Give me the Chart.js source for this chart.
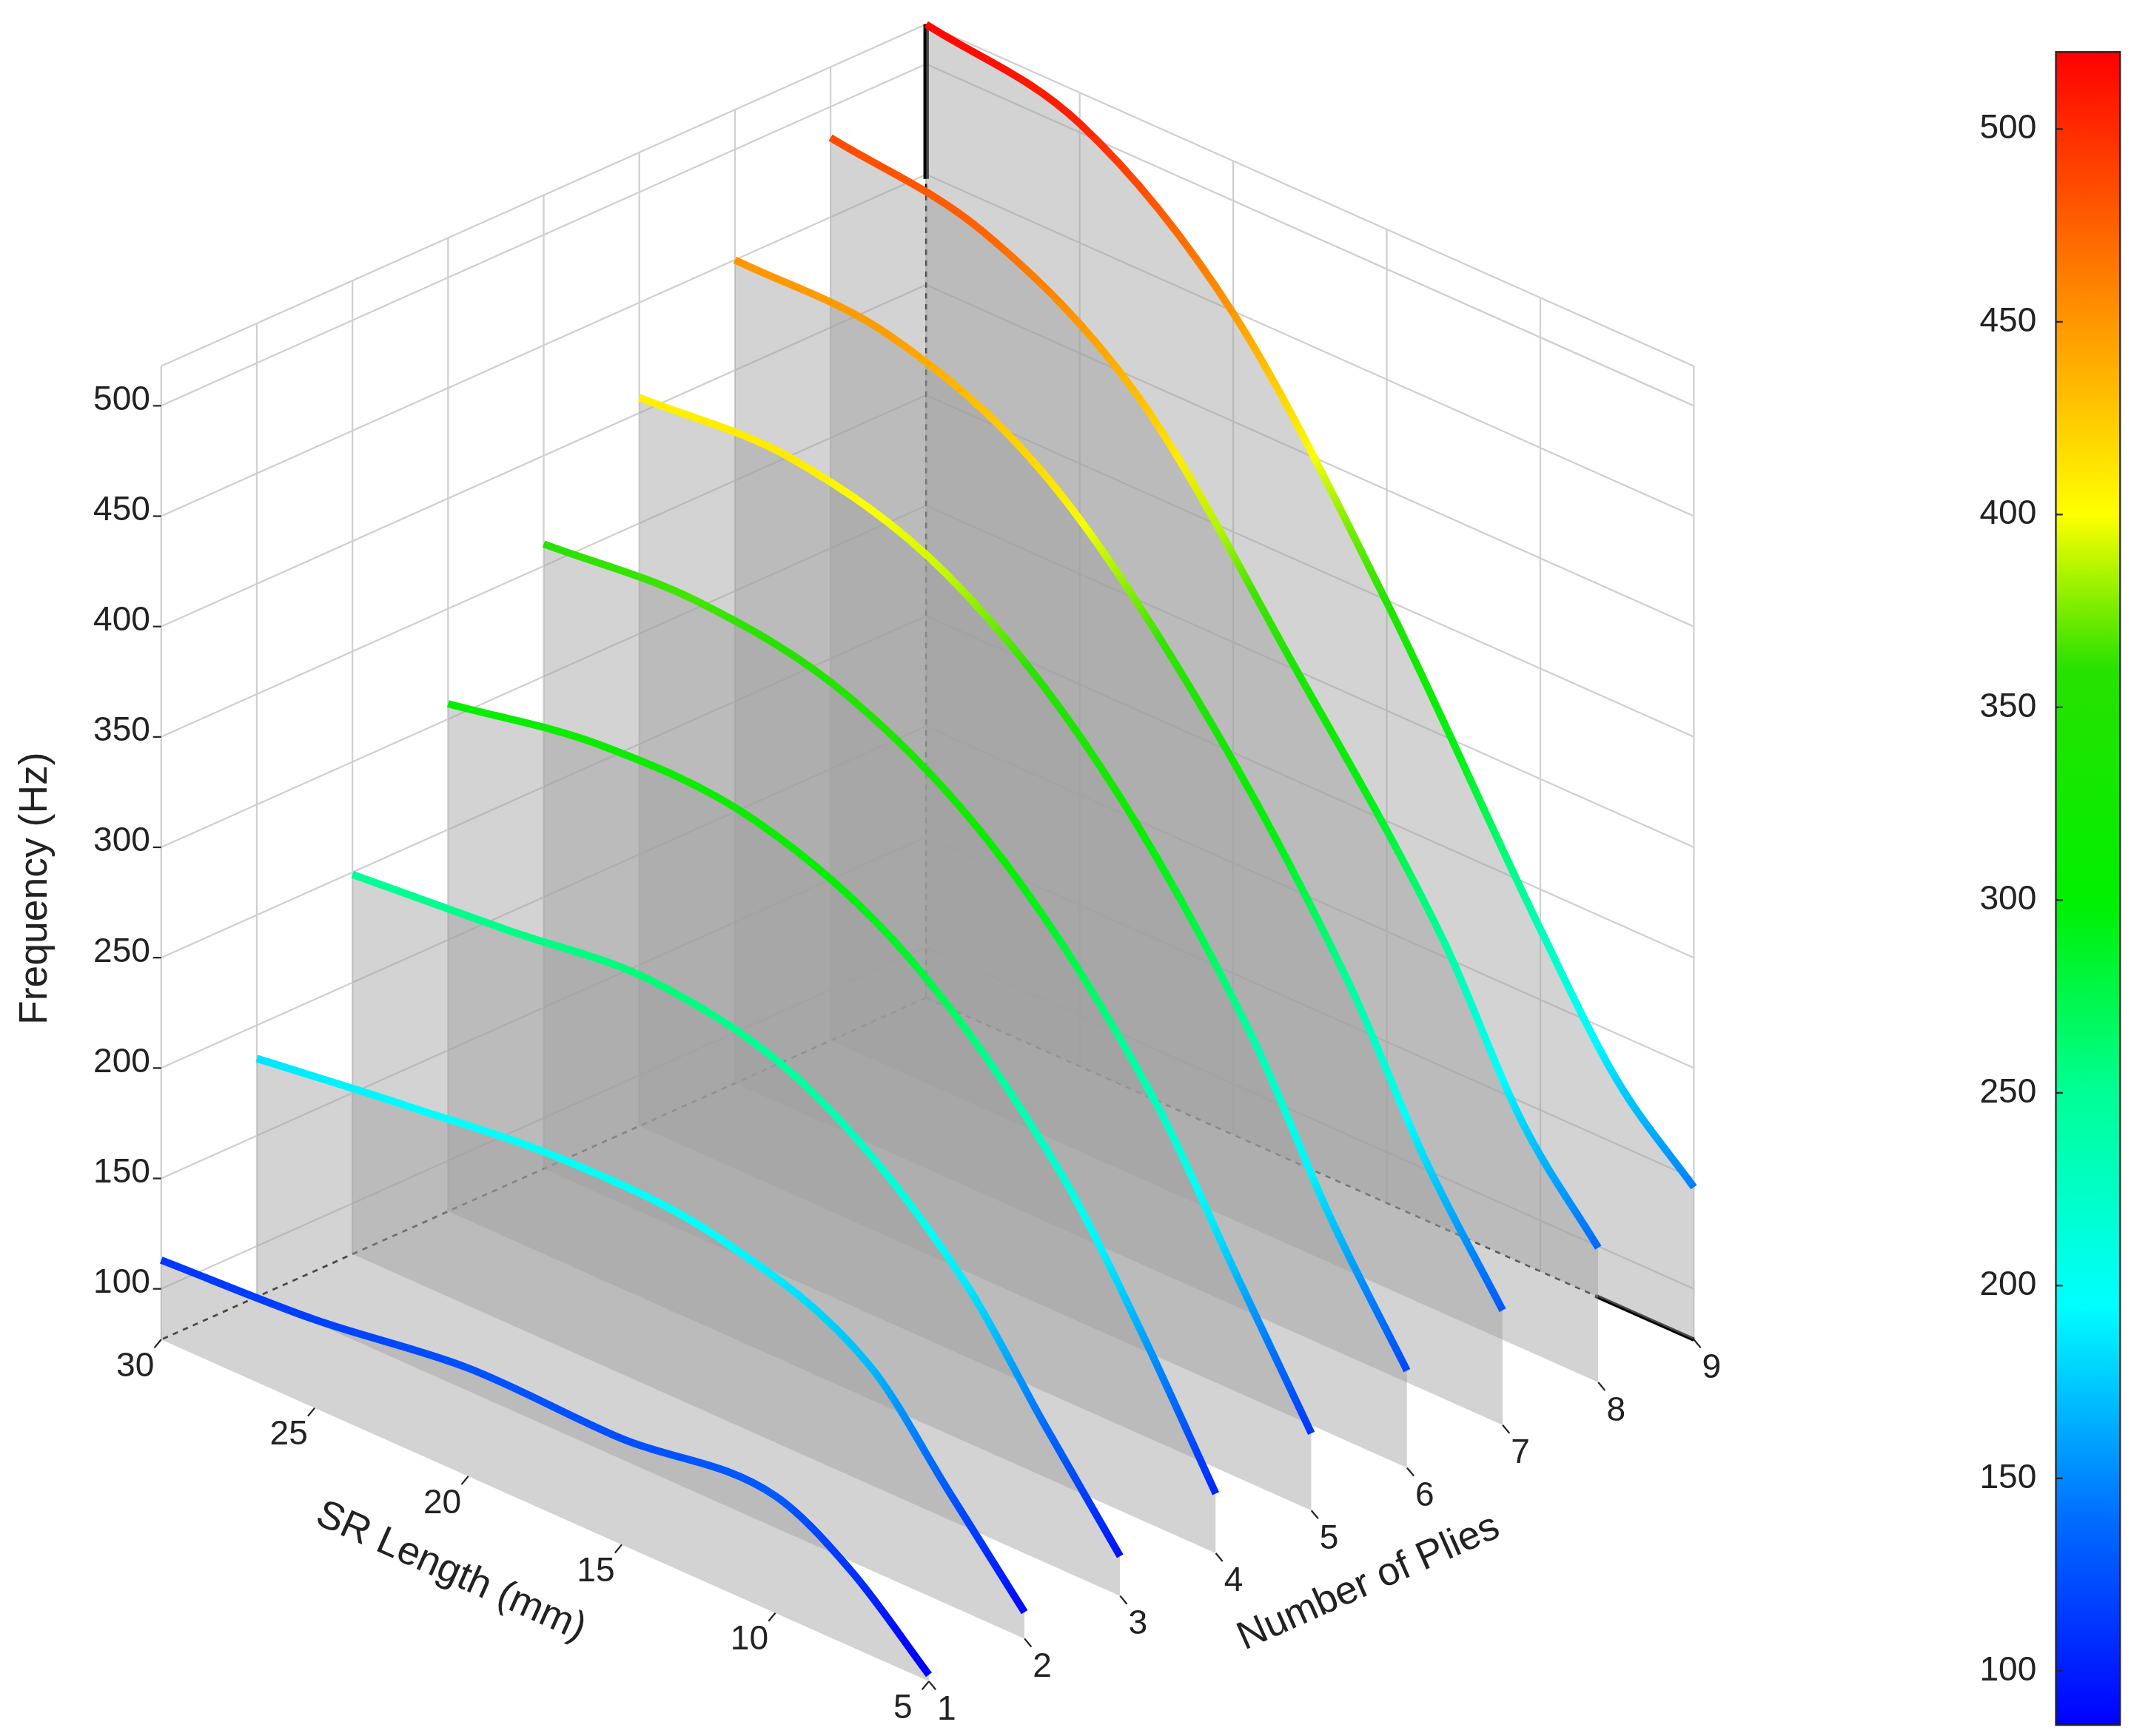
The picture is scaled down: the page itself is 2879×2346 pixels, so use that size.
<!DOCTYPE html>
<html>
<head>
<meta charset="utf-8">
<script src="https://cdn.jsdelivr.net/npm/chart.js@4.4.1/dist/chart.umd.min.js"></script>
<style>
  html, body { margin: 0; padding: 0; background: #fff; }
  #wrap { width: 2879px; height: 2346px; position: relative; }
</style>
</head>
<body>
<div id="wrap"><canvas id="c"></canvas></div>
<script>
// Values.
const lengths = [30, 25, 20, 15, 10, 7.5, 5];
const plies = [1, 2, 3, 4, 5, 6, 7, 8, 9];
const freqPly1 = [113, 117, 126, 125, 130, 111, 80];
const freqPly2 = [185, 194, 201, 197, 169, 129, 89];
const freqPly3 = [249, 255, 261, 243, 187, 140, 95];
const freqPly4 = [307, 319, 316, 285, 217, 164, 104];
const freqPly5 = [360, 365, 352, 309, 229, 170, 112];
const freqPly6 = [407, 410, 389, 333, 240, 175, 121];
const freqPly7 = [450, 447, 416, 345, 246, 181, 129];
const freqPly8 = [486, 474, 431, 342, 245, 180, 138];
const freqPly9 = [518, 504, 449, 349, 232, 179, 146];
const freqSeries = [freqPly1, freqPly2, freqPly3, freqPly4, freqPly5, freqPly6, freqPly7, freqPly8, freqPly9];
const lengthTicks = [30, 25, 20, 15, 10, 5];
const freqTicks = [100, 150, 200, 250, 300, 350, 400, 450, 500];
const colorbarTicks = [100, 150, 200, 250, 300, 350, 400, 450, 500];

const Z_MIN = 77, Z_MAX = 518;
const C_MIN = 86, C_MAX = 520;

// simple oblique projection in reference-picture units (1560 x 1270)
function proj(L, p, z) {
  return {
    x: 680 + (p - 1) * 70 - (L - 5) * 22.48,
    y: 1230 - (p - 1) * 31.25 - (L - 5) * 10 - (z - Z_MIN) * 1.615,
  };
}

const cmapStops = [
  [86, [0, 0, 255]], [140, [0, 110, 255]], [195, [0, 255, 255]], [250, [0, 255, 150]],
  [300, [0, 240, 0]], [360, [40, 225, 0]], [400, [255, 255, 0]], [455, [255, 140, 0]], [520, [255, 0, 0]],
];
function jet(v) {
  if (v <= cmapStops[0][0]) return 'rgb(' + cmapStops[0][1].join(',') + ')';
  for (let i = 1; i < cmapStops.length; i++) {
    if (v <= cmapStops[i][0]) {
      const [a, ca] = cmapStops[i - 1], [b, cb] = cmapStops[i];
      const t = (v - a) / (b - a);
      return 'rgb(' + ca.map((c, j) => Math.round(c + (cb[j] - c) * t)).join(',') + ')';
    }
  }
  return 'rgb(255,0,0)';
}

// gradient along the curve's screen path, colored by frequency at each point
function curveGradient(context) {
  const chart = context.chart;
  if (!chart.chartArea) return '#000';
  const pts = chart.data.datasets[context.datasetIndex].data;
  const sx = chart.scales.x, sy = chart.scales.y;
  const px = pts.map(p => [sx.getPixelForValue(p.x), sy.getPixelForValue(p.y)]);
  const a = px[0], b = px[px.length - 1];
  const dx = b[0] - a[0], dy = b[1] - a[1], len2 = dx * dx + dy * dy;
  const g = chart.ctx.createLinearGradient(a[0], a[1], b[0], b[1]);
  const add = (t, z) => g.addColorStop(Math.min(1, Math.max(0, t)), jet(z));
  for (let i = 0; i < px.length; i++) {
    const t = ((px[i][0] - a[0]) * dx + (px[i][1] - a[1]) * dy) / len2;
    add(t, pts[i].z);
    if (i < px.length - 1) {
      const t2 = ((px[i + 1][0] - a[0]) * dx + (px[i + 1][1] - a[1]) * dy) / len2;
      for (let s = 1; s < 4; s++) add(t + (t2 - t) * s / 4, pts[i].z + (pts[i + 1].z - pts[i].z) * s / 4);
    }
  }
  return g;
}

const datasets = [];
plies.forEach((p, i) => {
  const vals = freqSeries[i];
  datasets.push({
    label: 'Ply ' + p,
    data: lengths.map((L, j) => Object.assign(proj(L, p, vals[j]), { z: vals[j] })),
    showLine: true,
    borderWidth: 10,
    pointRadius: 0,
    cubicInterpolationMode: 'monotone',
    borderColor: curveGradient,
    backgroundColor: 'rgba(160,160,160,0.46)',
    fill: { target: plies.length + i },
  });
});
plies.forEach((p) => {
  datasets.push({
    label: 'floor ' + p,
    data: lengths.map((L) => proj(L, p, Z_MIN)),
    showLine: true,
    borderWidth: 0,
    pointRadius: 0,
  });
});

const decor = {
  id: 'decor',
  beforeDatasetsDraw(chart) {
    const ctx = chart.ctx, sx = chart.scales.x, sy = chart.scales.y;
    const k = chart.width / 1560;
    const P = (pt) => [sx.getPixelForValue(pt.x), sy.getPixelForValue(pt.y)];
    const line = (a, b, color, w, dash) => {
      const A = P(a), B = P(b);
      ctx.save();
      ctx.strokeStyle = color; ctx.lineWidth = w * k; ctx.setLineDash(dash ? dash.map(d => d * k) : []);
      ctx.beginPath(); ctx.moveTo(A[0], A[1]); ctx.lineTo(B[0], B[1]); ctx.stroke();
      ctx.restore();
    };
    const grid = '#cfcfcf';
    // left back wall (L = 30)
    plies.forEach(p => line(proj(30, p, Z_MIN), proj(30, p, Z_MAX), grid, 1.2));
    freqTicks.forEach(z => line(proj(30, 1, z), proj(30, 9, z), grid, 1.2));
    line(proj(30, 1, Z_MAX), proj(30, 9, Z_MAX), grid, 1.2);
    // right back wall (plies = 9)
    lengthTicks.forEach(L => line(proj(L, 9, Z_MIN), proj(L, 9, Z_MAX), grid, 1.2));
    freqTicks.forEach(z => line(proj(30, 9, z), proj(5, 9, z), grid, 1.2));
    line(proj(30, 9, Z_MAX), proj(5, 9, Z_MAX), grid, 1.2);
    // hidden edges
    line(proj(30, 9, Z_MIN), proj(30, 9, Z_MAX), '#000', 1.5, [4, 4]);
    line(proj(30, 9, Z_MIN), proj(30, 1, Z_MIN), '#000', 1.5, [4, 4]);
    line(proj(30, 9, Z_MIN), proj(5, 9, Z_MIN), '#000', 1.5, [4, 4]);
    line(proj(30, 9, 448), proj(30, 9, Z_MAX), '#000', 4);
    line(proj(8.2, 9, Z_MIN), proj(5, 9, Z_MIN), '#000', 3);
  },
  afterDraw(chart) {
    const ctx = chart.ctx, sx = chart.scales.x, sy = chart.scales.y;
    const k = chart.width / 1560;
    const X = (x) => sx.getPixelForValue(x), Y = (y) => sy.getPixelForValue(y);
    const font = (s) => (s * k) + 'px "Liberation Sans", Arial, sans-serif';
    ctx.save();
    ctx.fillStyle = '#222';
    ctx.strokeStyle = '#222';
    ctx.lineWidth = 1.2 * k;
    ctx.font = font(25);
    // frequency ticks
    ctx.textAlign = 'right'; ctx.textBaseline = 'middle';
    freqTicks.forEach(z => {
      const q = proj(30, 1, z);
      ctx.beginPath(); ctx.moveTo(X(q.x - 6), Y(q.y)); ctx.lineTo(X(q.x), Y(q.y)); ctx.stroke();
      ctx.fillText(String(z), X(q.x - 8), Y(q.y - 4));
    });
    // length ticks
    ctx.textAlign = 'center';
    lengthTicks.forEach(L => {
      const q = proj(L, 1, Z_MIN);
      ctx.beginPath(); ctx.moveTo(X(q.x), Y(q.y)); ctx.lineTo(X(q.x - 5), Y(q.y + 6)); ctx.stroke();
      ctx.fillText(String(L), X(q.x - 19), Y(q.y + 20));
    });
    // ply ticks
    plies.forEach(p => {
      const q = proj(5, p, Z_MIN);
      ctx.beginPath(); ctx.moveTo(X(q.x), Y(q.y)); ctx.lineTo(X(q.x + 5), Y(q.y + 6)); ctx.stroke();
      ctx.fillText(String(p), X(q.x + 13), Y(q.y + 21));
    });
    // axis titles
    ctx.font = font(29);
    const ang = Math.atan(250 / 562);
    ctx.save(); ctx.translate(X(330), Y(1150)); ctx.rotate(ang); ctx.fillText('SR Length (mm)', 0, 0); ctx.restore();
    ctx.save(); ctx.translate(X(1002), Y(1158)); ctx.rotate(-ang); ctx.fillText('Number of Plies', 0, 0); ctx.restore();
    ctx.save(); ctx.translate(X(26), Y(650)); ctx.rotate(-Math.PI / 2); ctx.fillText('Frequency (Hz)', 0, 0); ctx.restore();
    // colorbar
    const cx0 = 1505, cx1 = 1552, cy0 = 38, cy1 = 1262;
    const cy = (v) => cy1 - (v - C_MIN) / (C_MAX - C_MIN) * (cy1 - cy0);
    const g = ctx.createLinearGradient(0, Y(cy1), 0, Y(cy0));
    cmapStops.forEach(([v, c]) => g.addColorStop((v - C_MIN) / (C_MAX - C_MIN), 'rgb(' + c.join(',') + ')'));
    ctx.fillStyle = g;
    ctx.fillRect(X(cx0), Y(cy0), X(cx1) - X(cx0), Y(cy1) - Y(cy0));
    ctx.strokeStyle = '#222';
    ctx.strokeRect(X(cx0), Y(cy0), X(cx1) - X(cx0), Y(cy1) - Y(cy0));
    ctx.fillStyle = '#222';
    ctx.font = font(25);
    ctx.textAlign = 'center';
    colorbarTicks.forEach(v => {
      ctx.beginPath(); ctx.moveTo(X(cx0), Y(cy(v))); ctx.lineTo(X(cx0 + 5), Y(cy(v))); ctx.stroke();
      ctx.fillText(String(v), X(1470), Y(cy(v)));
    });
    ctx.restore();
  },
};

new Chart(document.getElementById('c'), {
  type: 'scatter',
  data: { datasets: datasets },
  plugins: [decor],
  options: {
    responsive: true,
    maintainAspectRatio: false,
    devicePixelRatio: 1,
    animation: false,
    layout: { padding: 0 },
    plugins: { legend: { display: false }, tooltip: { enabled: false } },
    scales: {
      x: { type: 'linear', min: 0, max: 1560, display: false },
      y: { type: 'linear', min: 0, max: 1270, reverse: true, display: false },
    },
  },
});
</script>
</body>
</html>
